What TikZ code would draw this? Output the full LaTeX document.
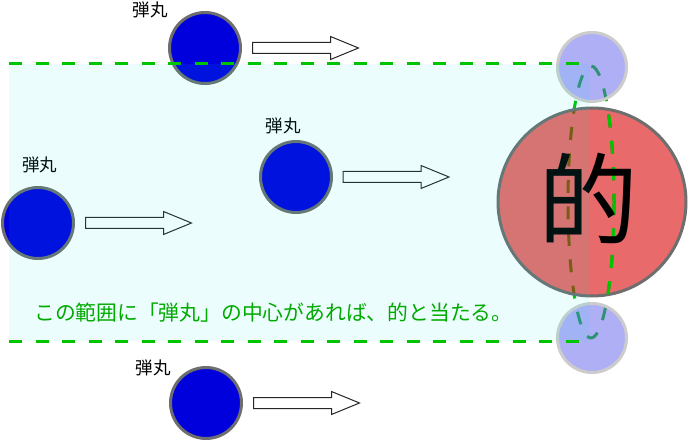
\documentclass[tikz,border=0pt]{standalone}
\usepackage{fontspec}
\setmainfont{Noto Sans CJK JP}
\usetikzlibrary{positioning}
\definecolor{shotblue}{HTML}{0000DD}
\definecolor{rimgray}{HTML}{6E6E6E}
\definecolor{matored}{RGB}{217,7,7}
\definecolor{ghostblue}{RGB}{96,96,235}
\definecolor{hitgreen}{HTML}{00C400}
\definecolor{notegreen}{HTML}{00AA00}
\definecolor{zonecyan}{RGB}{0,230,230}
\tikzset{shot/.style={circle,draw=rimgray,line width=3pt,fill=shotblue,inner sep=0pt,minimum size=71pt}}
\tikzset{mato/.style={circle,draw=rimgray,line width=3pt,fill=matored,fill opacity=0.6,inner sep=0pt,minimum size=188pt}}
\tikzset{ghost/.style={circle,draw=black!20,line width=3pt,fill=ghostblue,fill opacity=0.5,inner sep=0pt,minimum size=69pt}}
\tikzset{hitdash/.style={hitgreen,line width=3pt,dash pattern=on 13pt off 13.5pt}}
\tikzset{shotlabel/.style={font=\fontsize{17.5}{20}\selectfont,inner sep=0pt}}
\tikzset{arrowbox/.style={draw=black!85,line width=1pt,fill=white}}
\newcommand{\shotarrow}[1]{\draw[arrowbox] (#1) ++(0,-5.5) -- ++(78,0) -- ++(0,-6) -- ++(28,11.5) -- ++(-28,11.5) -- ++(0,-6) -- ++(-78,0) -- cycle;}

\begin{document}
\begin{tikzpicture}[x=1pt,y=-1pt]
      \useasboundingbox (0,0) rectangle (689,441);
      \node[shot] (s1) at (205,48) {};
      \node[shot] (s2) at (38,223) {};
      \node[shot] (s3) at (296,177) {};
      \node[shot] (s4) at (206,403) {};
      \node[shotlabel] (l1) at (150,10) {弾丸};
      \node[shotlabel] (l2) at (40,165) {弾丸};
      \node[shotlabel] (l3) at (283,126) {弾丸};
      \node[shotlabel] (l4) at (153,368) {弾丸};
      \coordinate[right=10.5pt of s1] (a1);
      \coordinate[right=10.5pt of s2] (a2);
      \coordinate[right=10pt of s3] (a3);
      \coordinate[right=10.5pt of s4] (a4);
      \shotarrow{a1}
      \shotarrow{a2}
      \shotarrow{a3}
      \shotarrow{a4}
      \draw[hitdash] (591,202) ellipse [x radius=23, y radius=136];
      \node[mato] (t) at (592,202) {};
      \node[ghost] (g1) at (592,67) {};
      \node[ghost] (g2) at (592,338) {};
      \begin{scope}
        \clip (592,202) circle [radius=94];
        \clip (591,0) rectangle (689,441);
        \draw[hitdash] (591,202) ellipse [x radius=23, y radius=136];
      \end{scope}
      \node[font=\fontsize{100}{100}\selectfont,inner sep=0pt] (kanji) at (588,198) {的};
      \fill[zonecyan,fill opacity=0.08] (9,64) rectangle (590,341);
      \draw[hitdash] (9,64) -- (583,64);
      \draw[hitdash] (9,341) -- (590,341);
      \node[anchor=west,text=notegreen,font=\fontsize{20.8}{24}\selectfont,inner sep=0pt] (note) at (34,313) {この範囲に「弾丸」の中心があれば、的と当たる。};
\end{tikzpicture}
\end{document}
